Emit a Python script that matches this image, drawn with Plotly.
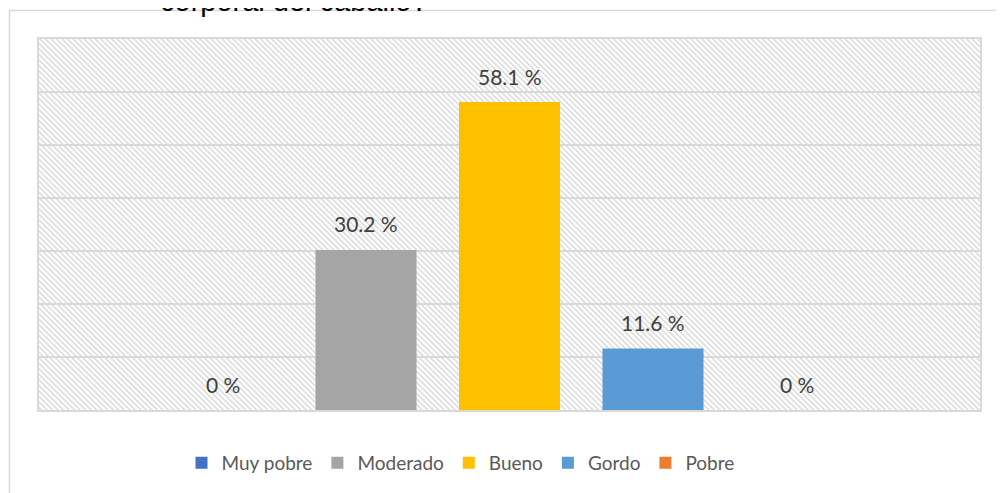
import base64
import plotly.graph_objects as go

series = ["Muy pobre", "Moderado", "Bueno", "Gordo", "Pobre"]
values = [0, 30.2, 58.1, 11.6, 0]
labels = ["0 %", "30.2 %", "58.1 %", "11.6 %", "0 %"]
colors = ["#4472C4", "#A5A5A5", "#FFC000", "#5B9BD5", "#ED7D31"]
title_fragment = "corporal del caballo?"

# the page body adds an 8px offset, so figure coordinates = picture coordinates - 8
W, H = 1004, 493
ml, mr, mt, mb = 31, 32, 31, 91
pw, ph = W - ml - mr, H - mt - mb

svg = f'''<svg xmlns="http://www.w3.org/2000/svg" width="{pw}" height="{ph}" viewBox="0 0 {pw} {ph}" preserveAspectRatio="none">
<defs><pattern id="h" patternUnits="userSpaceOnUse" width="3.9" height="20" patternTransform="rotate(-45)">
<rect x="0" y="0" width="1.4" height="20" fill="#d6d6d6"/></pattern></defs>
<rect width="{pw}" height="{ph}" fill="#ffffff"/>
<rect width="{pw}" height="{ph}" fill="url(#h)"/></svg>'''
src = "data:image/svg+xml;base64," + base64.b64encode(svg.encode()).decode()

fig = go.Figure()
for i, (s, v, c) in enumerate(zip(series, values, colors)):
    fig.add_trace(go.Bar(x=[i], y=[v], name=s, marker=dict(color=c, line=dict(width=0)),
                         width=0.704, hoverinfo="skip"))

for i, (v, t) in enumerate(zip(values, labels)):
    fig.add_annotation(x=i, y=v, xref="x", yref="y", text=t, showarrow=False,
                       yanchor="middle", yshift=26,
                       font=dict(family="Lato, Carlito, sans-serif", size=21, color="#404040"))

fig.add_annotation(x=0.5, y=1 + (mt - 11) / ph, xref="paper", yref="paper", text=title_fragment,
                   showarrow=False, yanchor="bottom", xanchor="center",
                   xshift=-216,
                   font=dict(family="Liberation Sans, Arial, sans-serif", size=29, color="#000000"))

fig.add_shape(type="rect", xref="paper", yref="paper",
              x0=(1.5 - ml) / pw, x1=(W + 10 - ml) / pw,
              y0=-(H + 10 - mt - ph) / ph, y1=1 + (mt - 2.5) / ph,
              line=dict(color="#d9d9d9", width=1.5), fillcolor="rgba(0,0,0,0)", layer="below")

fig.update_layout(
    width=W, height=H,
    margin=dict(l=ml, r=mr, t=mt, b=mb, pad=0),
    paper_bgcolor="#ffffff", plot_bgcolor="rgba(0,0,0,0)",
    barmode="overlay",
    showlegend=True,
    legend=dict(orientation="h", x=0.5 - 49 / pw, xanchor="center", y=-(455 - mt - ph) / ph,
                yanchor="middle",
                font=dict(family="Lato, Carlito, sans-serif", size=19, color="#595959"),
                itemclick=False, bgcolor="rgba(0,0,0,0)"),
    images=[dict(source=src, xref="paper", yref="paper", x=0, y=1, sizex=1, sizey=1,
                 xanchor="left", yanchor="top", sizing="stretch", layer="below")],
    xaxis=dict(range=[-1.2787, 5.2787], showticklabels=False, ticks="", showgrid=False,
               zeroline=False, showline=True, mirror=True, linecolor="#d9d9d9", linewidth=1.5),
    yaxis=dict(range=[0, 70], dtick=10, showticklabels=False, ticks="", showgrid=True,
               gridcolor="#d9d9d9", gridwidth=1.5, zeroline=False, showline=True, mirror=True,
               linecolor="#d9d9d9", linewidth=1.5),
)

fig.write_html("out.html")
